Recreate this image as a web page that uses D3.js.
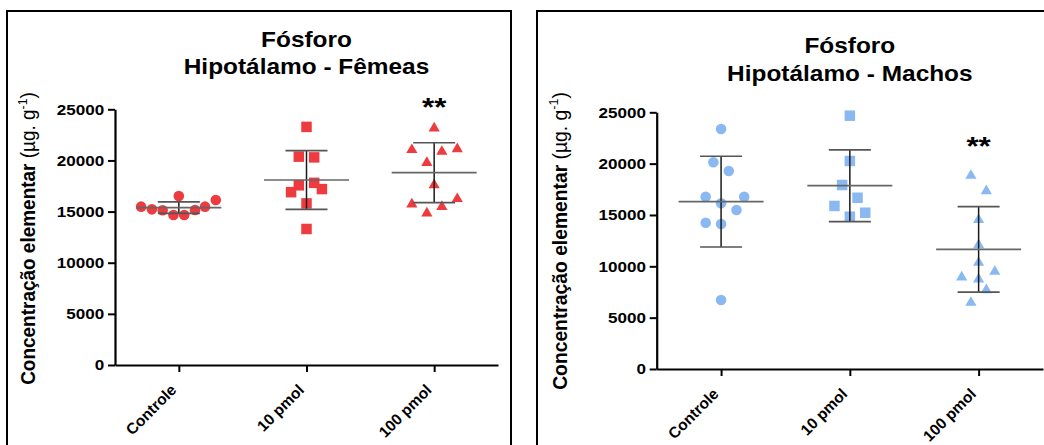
<!DOCTYPE html>
<html>
<head>
<meta charset="utf-8">
<script src="https://cdn.jsdelivr.net/npm/d3@7/dist/d3.min.js"></script>
<style>
  html, body { margin: 0; padding: 0; background: #fff; }
  svg { display: block; }
  text { font-family: "Liberation Sans", Arial, sans-serif; }
</style>
</head>
<body>
<svg id="chart" width="1044" height="445"></svg>
<script>
// ---------- data ----------
const categories = ["Controle", "10 pmol", "100 pmol"];
const yTicks = [0, 5000, 10000, 15000, 20000, 25000];

const femTitle = ["Fósforo", "Hipotálamo - Fêmeas"];
const femValues = [
  [15480, 15220, 15130, 14670, 16520, 14670, 15160, 15480, 16130],
  [23280, 20370, 20300, 17570, 17810, 16900, 17200, 15800, 13300],
  [23300, 21190, 21020, 21280, 19930, 17750, 15870, 16400, 15640, 14990]
];
const femJitter = [
  [-4.9, -3.5, -2.1, -0.7, 0, 0.7, 2.1, 3.4, 4.8],
  [0, -1, 1, -1, 1, -2, 2, 0, 0],
  [0, -2.9, 1, 3, -0.95, 0, -2.9, 3, 1, -0.95]
];
const femMean = [15380, 18090, 18800];
const femSD = [560, 2870, 2930];
const femSig = ["", "", "**"];

const macTitle = ["Fósforo", "Hipotálamo - Machos"];
const macValues = [
  [23370, 20130, 19280, 16780, 16780, 16140, 15490, 14250, 14120, 6720],
  [24670, 20260, 17920, 16680, 15880, 15220, 14830],
  [18990, 17500, 14680, 12240, 10520, 9640, 9090, 8890, 7860, 6620]
];
const macJitter = [
  [0, -1, 1, -2, 3, 0, 2, -2, 0, 0],
  [0, 0, -1, 1, -2, 2, 0],
  [-1, 1, 0, 0, 0, 2.1, -2.2, 0, 1, -1]
];
const macMean = [16300, 17850, 11650];
const macSD = [4420, 3490, 4170];
const macSig = ["", "", "**"];

const yLabelMain = "Concentração elementar ";
const yLabelUnit = "(µg. g";
const yLabelSup = "-1";

// ---------- drawing ----------
const svg = d3.select("#chart");
const FONT = "'Liberation Sans', Arial, sans-serif";

// bbox-centred triangle symbol
const triangleType = {
  draw(ctx, size) {
    const w = Math.sqrt(size) * 1.1, h = Math.sqrt(size) * 0.95;
    ctx.moveTo(0, -h / 2);
    ctx.lineTo(w / 2, h / 2);
    ctx.lineTo(-w / 2, h / 2);
    ctx.closePath();
  }
};
const squareType = {
  draw(ctx, size) {
    const s = Math.sqrt(size);
    ctx.rect(-s / 2, -s / 2, s, s);
  }
};
const symbolTypes = [d3.symbolCircle, squareType, triangleType];
const symbolSizes = [Math.PI * 5.3 * 5.3, 10.5 * 10.5, 104];

function panel(cfg) {
  const g = svg.append("g");

  // frame
  g.append("rect")
    .attr("x", cfg.frame[0]).attr("y", cfg.frame[1])
    .attr("width", cfg.frame[2]).attr("height", cfg.frame[3])
    .attr("fill", "none").attr("stroke", "#000").attr("stroke-width", 2);

  const y = d3.scaleLinear().domain([0, 25000]).range([cfg.y0, cfg.y1]);
  const x = d3.scalePoint().domain(categories).range([cfg.x0, cfg.x1]).padding(0.5);
  const jit = d3.scaleLinear().domain([-1, 1]).range([-7.7, 7.7]);

  // y axis
  const ya = g.append("g").attr("transform", `translate(${cfg.x0},0)`)
    .call(d3.axisLeft(y).tickValues(yTicks).tickSize(7).tickSizeOuter(0).tickPadding(2.8)
      .tickFormat(d3.format("d")));
  ya.attr("font-size", null).attr("font-family", null);
  ya.select(".domain").attr("stroke-width", 2.2);
  ya.selectAll(".tick line").attr("stroke-width", 2);
  ya.selectAll(".tick text")
    .style("font-family", FONT).style("font-size", "15.5px").style("font-weight", "bold")
    .attr("fill", "#000").attr("transform", "scale(1.1,1)");

  // x axis
  const xa = g.append("g").attr("transform", `translate(0,${cfg.y0})`)
    .call(d3.axisBottom(x).tickSize(7).tickSizeOuter(0));
  xa.attr("font-size", null).attr("font-family", null);
  xa.select(".domain").attr("stroke-width", 2.2);
  xa.selectAll(".tick line").attr("stroke-width", 2);
  xa.selectAll(".tick text")
    .style("font-family", FONT).style("font-size", "15.5px").style("font-weight", "bold")
    .attr("fill", "#000")
    .attr("text-anchor", "end")
    .attr("x", 0).attr("y", 0).attr("dy", 0)
    .attr("transform", "translate(-2,26) rotate(-45)");

  // points
  categories.forEach((c, i) => {
    const cx = x(c);
    const sym = d3.symbol().type(symbolTypes[i]).size(symbolSizes[i]);
    g.append("g").selectAll("path")
      .data(cfg.values[i].map((v, k) => ({ v, j: cfg.jitter[i][k] })))
      .join("path")
      .attr("d", sym)
      .attr("fill", cfg.color)
      .attr("transform", d => `translate(${cx + jit(d.j)},${y(d.v)})`);
  });

  // mean ± SD
  categories.forEach((c, i) => {
    const cx = x(c);
    const m = cfg.mean[i], s = cfg.sd[i];
    const eg = g.append("g");
    eg.append("line").attr("x1", cx).attr("x2", cx)
      .attr("y1", y(m - s)).attr("y2", y(m + s))
      .attr("stroke", "#1a1a1a").attr("stroke-width", 1.5);
    [m - s, m + s].forEach(v => {
      eg.append("line").attr("x1", cx - 21).attr("x2", cx + 21)
        .attr("y1", y(v)).attr("y2", y(v))
        .attr("stroke", "#555").attr("stroke-width", 1.7);
    });
    eg.append("line").attr("x1", cx - 42.5).attr("x2", cx + 42.5)
      .attr("y1", y(m)).attr("y2", y(m))
      .attr("stroke", "#666").attr("stroke-width", 1.7);

    if (cfg.sig[i]) {
      g.append("text").text(cfg.sig[i])
        .attr("font-family", FONT).attr("font-size", 26).attr("font-weight", "bold")
        .attr("text-anchor", "middle")
        .attr("transform", `translate(${cx},${cfg.sigY}) scale(1.2,1)`);
    }
  });

  // titles centred on the middle category
  const tx = x(categories[1]);
  cfg.title.forEach((t, k) => {
    g.append("text").text(t)
      .attr("font-family", FONT).attr("font-size", 22).attr("font-weight", "bold")
      .attr("text-anchor", "middle")
      .attr("transform", `translate(${tx},${cfg.titleY[k]}) scale(1.11,1)`);
  });

  // y label
  const yl = g.append("text")
    .attr("font-family", FONT).attr("font-size", 17).attr("font-weight", "bold")
    .attr("text-anchor", "middle");
  yl.append("tspan").text(yLabelMain);
  yl.append("tspan").attr("font-weight", "normal").text(yLabelUnit);
  yl.append("tspan").attr("font-weight", "normal").attr("font-size", 11).attr("dy", -7).text(yLabelSup);
  yl.append("tspan").attr("font-weight", "normal").attr("dy", 7).text(")");
  const natural = yl.node().getComputedTextLength();
  const sx = cfg.ylabLen / natural;
  yl.attr("transform", `translate(${cfg.ylabX},${cfg.ylabY}) rotate(-90) scale(${sx},1.15)`);
}

panel({
  frame: [7, 11, 504, 500],
  x0: 115, x1: 498, y0: 365, y1: 109.3,
  color: "#EE3B3F",
  values: femValues, jitter: femJitter, mean: femMean, sd: femSD, sig: femSig,
  title: femTitle, titleY: [46.7, 74], sigY: 116,
  ylabX: 35, ylabY: 238.5, ylabLen: 293
});

panel({
  frame: [537, 11, 600, 500],
  x0: 656.7, x1: 1043, y0: 369, y1: 112.3,
  color: "#8AB9F2",
  values: macValues, jitter: macJitter, mean: macMean, sd: macSD, sig: macSig,
  title: macTitle, titleY: [53.3, 81], sigY: 155,
  ylabX: 566.5, ylabY: 241, ylabLen: 298
});
</script>
</body>
</html>
